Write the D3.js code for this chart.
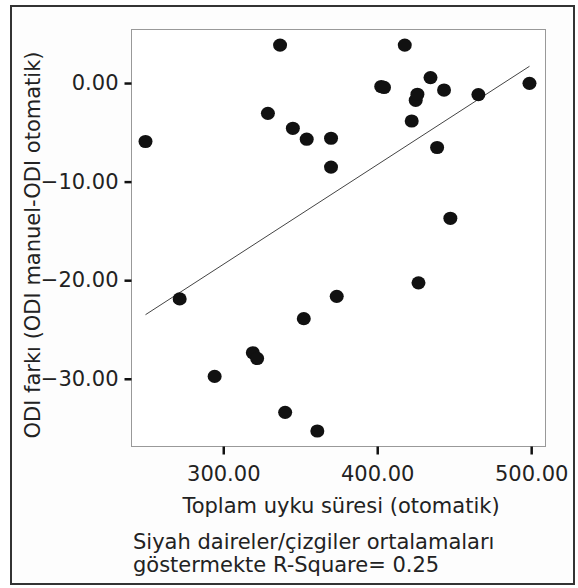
<!DOCTYPE html>
<html>
<head>
<meta charset="utf-8">
<script src="https://cdn.jsdelivr.net/npm/d3@7"></script>
<style>
  body { margin: 0; background: #fff; }
  text { font-family: "DejaVu Sans", sans-serif; fill: #222; }
</style>
</head>
<body>
<div id="chart"></div>
<script>
// data
var sleepTotal = [249.5, 271.7, 294.4, 319.2, 322.0, 329.0, 336.9, 340.2, 345.2, 354.2,
                  352.3, 361.1, 370.0, 370.0, 373.7, 402.6, 404.4, 417.9, 422.4, 425.0,
                  426.1, 426.8, 434.6, 438.9, 443.4, 447.5, 465.7, 498.9];
var odiDiff = [-5.93, -21.9, -29.76, -27.36, -27.94, -3.07, 3.85, -33.4, -4.59, -5.70,
               -23.9, -35.3, -5.60, -8.53, -21.64, -0.35, -0.45, 3.85, -3.85, -1.75,
               -1.14, -20.27, 0.55, -6.54, -0.71, -13.72, -1.17, -0.03];
// fit line (R-Square 0.25)
var fitX = [249.5, 498.9];
var fitY = [-23.5, 1.7];
var xTicks = [300, 400, 500];
var yTicks = [0, -10, -20, -30];

var W = 578, H = 588;
var plot = { left: 131.5, top: 29.5, right: 545.5, bottom: 446.5 };

var svg = d3.select("#chart").append("svg")
    .attr("width", W)
    .attr("height", H);

// outer frame
svg.append("rect")
    .attr("x", 11).attr("y", 6)
    .attr("width", 563).attr("height", 578)
    .attr("fill", "#fdfdfd")
    .attr("stroke", "#333")
    .attr("stroke-width", 2);

var x = d3.scaleLinear().domain([240.4, 509.3]).range([plot.left, plot.right]);
var y = d3.scaleLinear().domain([-36.87, 5.43]).range([plot.bottom, plot.top]);

// plot box
svg.append("rect")
    .attr("x", plot.left).attr("y", plot.top)
    .attr("width", plot.right - plot.left).attr("height", plot.bottom - plot.top)
    .attr("fill", "#fff")
    .attr("stroke", "#999")
    .attr("stroke-width", 1);

// axes
var xAxis = svg.append("g")
    .attr("transform", "translate(0," + plot.bottom + ")")
    .call(d3.axisBottom(x).tickValues(xTicks).tickSize(8).tickPadding(12)
        .tickFormat(d3.format(".2f")));
var yAxis = svg.append("g")
    .attr("transform", "translate(" + plot.left + ",0)")
    .call(d3.axisLeft(y).tickValues(yTicks).tickSize(7).tickPadding(6)
        .tickFormat(d3.format(".2f")));

[xAxis, yAxis].forEach(function (g) {
    g.select(".domain").remove();
    g.selectAll(".tick line").attr("stroke", "#111").attr("stroke-width", 2.5);
    g.selectAll(".tick text")
        .style("font-family", "DejaVu Sans, sans-serif")
        .style("font-size", "21px")
        .attr("fill", "#222");
});
xAxis.selectAll(".tick text").attr("dy", "0.71em");

// fit line
var line = d3.line()
    .x(function (d) { return x(d[0]); })
    .y(function (d) { return y(d[1]); });
svg.append("path")
    .datum(d3.zip(fitX, fitY))
    .attr("fill", "none")
    .attr("stroke", "#444")
    .attr("stroke-width", 1)
    .attr("d", line);

// points
svg.append("g").selectAll("ellipse")
    .data(d3.zip(sleepTotal, odiDiff))
    .enter().append("ellipse")
    .attr("cx", function (d) { return x(d[0]); })
    .attr("cy", function (d) { return y(d[1]); })
    .attr("rx", 7)
    .attr("ry", 6.6)
    .attr("fill", "#111");

// titles
svg.append("text")
    .attr("x", 341).attr("y", 513)
    .attr("text-anchor", "middle")
    .style("font-size", "21px")
    .text("Toplam uyku süresi (otomatik)");

svg.append("text")
    .attr("transform", "translate(40,245) rotate(-90)")
    .attr("text-anchor", "middle")
    .style("font-size", "21px")
    .text("ODI farkı (ODI manuel-ODI otomatik)");

var note = svg.append("text")
    .attr("x", 133).attr("y", 549)
    .style("font-size", "21px");
note.append("tspan").attr("x", 133).text("Siyah daireler/çizgiler ortalamaları");
note.append("tspan").attr("x", 133).attr("dy", 23).text("göstermekte R-Square= 0.25");
</script>
</body>
</html>
